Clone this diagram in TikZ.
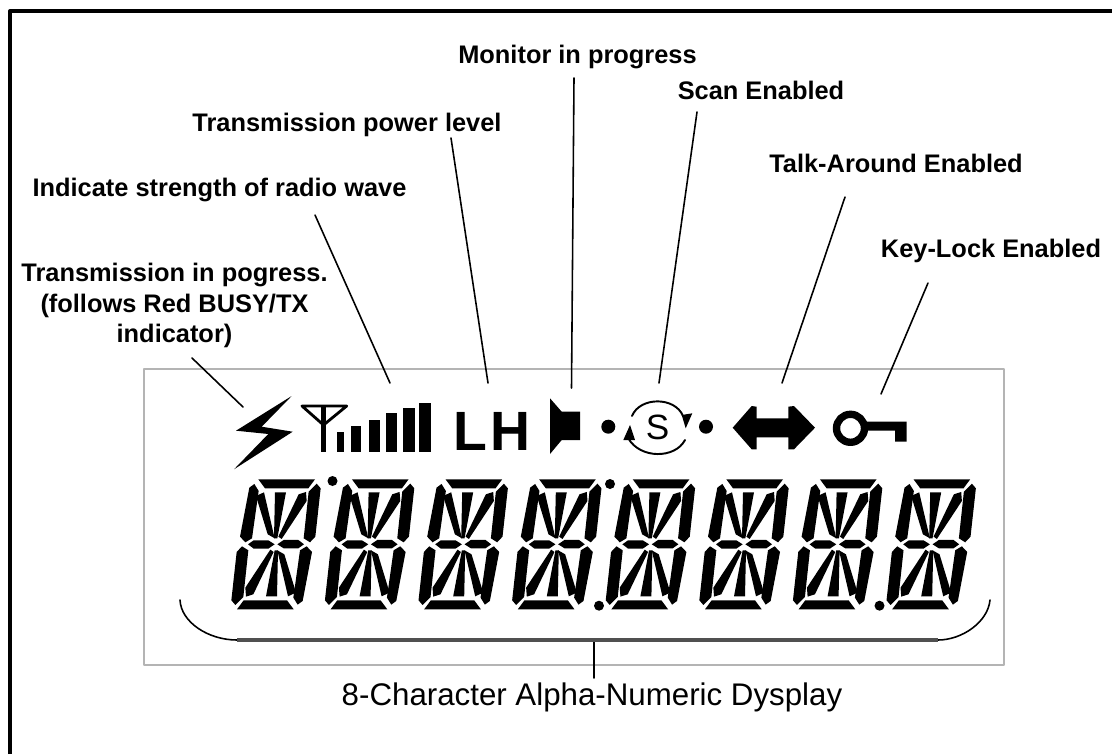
\documentclass[tikz,border=0pt]{standalone}
\usepackage{fontspec}
\setmainfont{Liberation Sans}
\usepackage{xcolor}
\usetikzlibrary{positioning,calc,arrows.meta}

\definecolor{lcdgray}{HTML}{B4B4B4}
\definecolor{brkgray}{HTML}{505050}

% one half of a 14-segment digit, in units of a third of a pixel around the centre
\newcommand{\seghalf}{
	\fill (-53,-195) -- (117,-195) -- (97,-168) -- (-33,-168) -- cycle;
	\fill (-80,-170) -- (-65,-181) -- (-52,-160) -- (-72,-18) -- (-92,-6) -- (-108,-23) -- cycle;
	\fill (122,-182) -- (134,-168) -- (118,-23) -- (102,-6) -- (83,-18) -- (98,-158) -- cycle;
	\fill (-60,-145) -- (-36,-156) -- (-4,-18) -- (-25,-30) -- cycle;
	\fill (-3,-156) -- (30,-156) -- (4,-18) -- (-6,-18) -- cycle;
	\fill (68,-150) -- (90,-157) -- (92,-130) -- (17,-16) -- (7,-23) -- cycle;
	\fill (-84,0) -- (-67,-12) -- (-23,-12) -- (-4,0) -- (-23,13) -- (-67,13) -- cycle;
}
\newcommand{\segdigit}[1]{
	\begin{scope}[shift={(#1,544.3)},x=0.00667cm,y=-0.00667cm]
		\seghalf
		\begin{scope}[rotate=180]
			\seghalf
		\end{scope}
	\end{scope}
}

\begin{document}
\begin{tikzpicture}[
					x=0.02cm,y=-0.02cm,
					line cap=round,line join=round,
					lbl/.style={font=\fontsize{14.45}{17.6}\selectfont\bfseries,align=center,inner sep=0pt},
					leader/.style={black,line width=0.9pt},
					icon/.style={fill=black,draw=none}
					]
					\useasboundingbox (0,0) rectangle (1112,754);
					\fill[white] (0,0) rectangle (1112,754);
					
					%----- outer frame + display window
					\draw[black, line width=1.9pt, line cap=butt] (10,754) -- (10,11) -- (1112,11);
					\draw[lcdgray, line width=0.7pt] (144,369) rectangle (1004,665);
					
					%----- labels
					\node[lbl] (lblMonitor) at (577.5,57) {Monitor in progress};
					\node[lbl] (lblScan) at (761,90) {Scan Enabled};
					\node[lbl] (lblPower) at (347,124.5) {Transmission power level};
					\node[lbl] (lblTalk) at (896,163) {Talk-Around Enabled};
					\node[lbl] (lblRadio) at (219.5,190) {Indicate strength of radio wave};
					\node[lbl] (lblKey) at (991,251) {Key-Lock Enabled};
					\node[lbl] (lblTx) at (174.5,305.5) {Transmission in pogress.\\(follows Red BUSY/TX\\indicator)};
					\node[inner sep=0pt,font=\fontsize{17.8}{20}\selectfont] (lblDisplay) at (592,697) {8-Character Alpha-Numeric Dysplay};
					
					%----- leader ends
					\coordinate (txTop) at (192,358);
					\coordinate (txEnd) at (243,407);
					\coordinate (radioTop) at (315,215);
					\coordinate (radioEnd) at (390,383);
					\coordinate (powerTop) at (451,138);
					\coordinate (powerEnd) at (488,383);
					\coordinate (monTop) at (574,78);
					\coordinate (monEnd) at (571.5,388);
					\coordinate (scanTop) at (697,112);
					\coordinate (scanEnd) at (659,383);
					\coordinate (talkTop) at (845,197);
					\coordinate (talkEnd) at (782,383);
					\coordinate (keyTop) at (928,283);
					\coordinate (keyEnd) at (881,394);
					\coordinate (brkL) at (180,600);
					\coordinate (brkR) at (990,600);
					\coordinate (brkMid) at (594,640);
					\coordinate (brkEnd) at (594,678);
					
					\foreach \a/\b in {txTop/txEnd,radioTop/radioEnd,powerTop/powerEnd,monTop/monEnd,scanTop/scanEnd,talkTop/talkEnd,keyTop/keyEnd,brkMid/brkEnd}{
						\draw[leader] (\a) -- (\b);
					}
					
					% bracket under the digits
					\draw[leader] (brkL) .. controls (181,622) and (208,640) .. (237,640);
					\draw[leader] (938,640) .. controls (962,640) and (988,622) .. (brkR);
					\draw[brkgray, line width=2.2pt, line cap=butt] (237,640) -- (938,640);
					
					%----- digits
					\foreach \i in {0,...,7}{
						\segdigit{276+\i*93.6}
					}
					\foreach \x/\y in {332.5/481,610/484,599/605.7,879.5/605.7}{
						\fill (\x,\y) circle (5);
					}
					
					%----- bolt
					\fill[icon] (291.7,396) -- (236,430.7) -- (268.3,434) -- (234,469.3) -- (292.7,431.7) -- (261.7,426.7) -- cycle;
					
					%----- antenna + bars
					\draw[black, line width=1.6pt, line cap=butt] (302,406) -- (346.7,406) -- (323.5,425) -- cycle;
					\draw[black, line width=3pt, line cap=butt] (323.5,405) -- (323.5,451.7);
					\foreach \xa/\xb/\yt in {336.7/344/431.7,350.7/361.3/425.7,369.3/380/420,386/397.3/413.3,402.7/414.7/408.3,419.3/430.7/403.3}{
						\fill (\xa,\yt) rectangle (\xb,451.7);
					}
					
					%----- L H
					\node[inner sep=0pt,font=\fontsize{31.5}{32}\selectfont\bfseries] (iconL) at (470,431) {L};
					\node[inner sep=0pt,font=\fontsize{31.5}{32}\selectfont\bfseries] (iconH) at (510,431) {H};
					
					%----- speaker
					\fill[icon] (550,398.3) -- (561.7,411.7) -- (580,411.7) -- (580,440) -- (561.7,440) -- (550,454) -- cycle;
					
					%----- scan
					\fill (608.3,426.7) circle (7);
					\fill (706,426.7) circle (7);
					\draw[black, line width=1.1pt] (632,416) .. controls (640,396.5) and (675,396.5) .. (683,416);
					\draw[black, line width=1.1pt] (685,440) .. controls (675,459) and (640,459) .. (628.3,438.3);
					\fill[icon] (692.3,413.3) -- (685.7,428.3) -- (681.7,415) -- cycle;
					\fill[icon] (623.3,440) -- (630,425) -- (635,440) -- cycle;
					\node[inner sep=0pt,font=\fontsize{20}{20}\selectfont] (iconS) at (657.7,427) {S};
					
					%----- double arrow
					\fill[icon] (732.7,427.7) -- (751.7,406) -- (756.7,406.7) -- (756.7,418.3) -- (788.3,418.3) -- (788.3,406.7) -- (794,406) -- (815,427.7) -- (794,449.3) -- (788.3,449.3) -- (788.3,437.3) -- (756.7,437.3) -- (756.7,449.3) -- (751.7,449.3) -- cycle;
					
					%----- key
					\draw[black, line width=4.2pt] (850.5,428.3) circle (14);
					\fill[icon] (863,421.7) -- (906.7,421.7) -- (906.7,441.7) -- (895,441.7) -- (895,430.7) -- (863,430.7) -- cycle;
				\end{tikzpicture}
\end{document}
